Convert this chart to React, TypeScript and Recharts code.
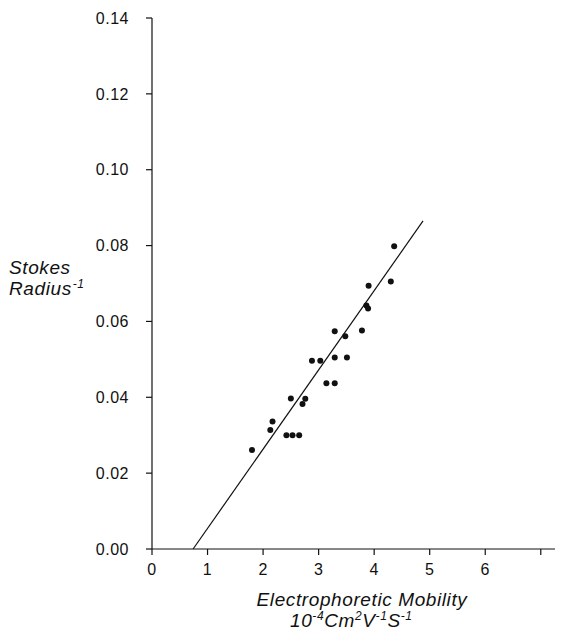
import React from "react";
import {
  ScatterChart,
  Scatter,
  XAxis,
  YAxis,
  ReferenceLine,
} from "recharts";

// electrophoretic mobility (10^-4 cm2 V-1 s-1) vs 1 / Stokes radius
const mobility = [
  1.8, 2.13, 2.17, 2.42, 2.53, 2.65, 2.5, 2.71, 2.76, 3.14, 3.29, 2.88, 3.03,
  3.29, 3.51, 3.29, 3.48, 3.78, 3.86, 3.89, 3.9, 4.3, 4.36,
];
const inverseRadius = [
  0.0261, 0.0314, 0.0336, 0.03, 0.03, 0.03, 0.0397, 0.0382, 0.0396, 0.0437,
  0.0437, 0.0496, 0.0496, 0.0505, 0.0505, 0.0574, 0.0561, 0.0576, 0.0642,
  0.0634, 0.0694, 0.0705, 0.0798,
];
const fitX = [0.74, 4.88];
const fitY = [0, 0.0865];

const xTicks = [0, 1, 2, 3, 4, 5, 6, 7];
const yTicks = [0, 0.02, 0.04, 0.06, 0.08, 0.1, 0.12, 0.14];

const points = mobility.map((x, i) => ({ x, y: inverseRadius[i] }));
const fitSegment = fitX.map((x, i) => ({ x, y: fitY[i] }));

const font = "'Liberation Sans', Arial, sans-serif";
const ink = "#111";

const Dot = (props: any) => (
  <circle cx={props.cx} cy={props.cy} r={3} fill={ink} />
);

const YLabel = () => (
  <text
    fontFamily={font}
    fontStyle="italic"
    fontSize={19}
    letterSpacing={0.6}
    fill={ink}
  >
    <tspan x={1} y={266}>Stokes</tspan>
    <tspan x={1} y={287}>Radius</tspan>
    <tspan fontSize={12} dx={1} dy={-7}>-1</tspan>
  </text>
);

const XLabel = () => (
  <text
    fontFamily={font}
    fontStyle="italic"
    fontSize={19}
    letterSpacing={0.6}
    fill={ink}
  >
    <tspan x={354} y={598} textAnchor="middle">
      Electrophoretic Mobility
    </tspan>
    <tspan x={282} y={619}>10</tspan>
    <tspan fontSize={12} dy={-7}>-4</tspan>
    <tspan dy={7}>Cm</tspan>
    <tspan fontSize={12} dy={-7}>2</tspan>
    <tspan dy={7}>V</tspan>
    <tspan fontSize={12} dy={-7}>-1</tspan>
    <tspan dy={7}>S</tspan>
    <tspan fontSize={12} dy={-7}>-1</tspan>
  </text>
);

export default function App() {
  return (
    <div style={{ width: 555, height: 623 }}>
      <ScatterChart
        width={555}
        height={623}
        margin={{ top: 10, right: 0, bottom: 0, left: 0 }}
      >
        <XAxis
          type="number"
          dataKey="x"
          domain={[0, 7.4]}
          ticks={xTicks}
          allowDataOverflow
          tickFormatter={(v: number) => (v === 7 ? "" : String(v))}
          height={82}
          tickSize={6}
          tickMargin={9}
          stroke={ink}
          strokeWidth={1.2}
          tick={{ fill: ink, fontSize: 16, fontFamily: font, letterSpacing: 0.5 }}
          label={{ content: () => <XLabel /> }}
        />
        <YAxis
          type="number"
          dataKey="y"
          domain={[0, 0.14]}
          ticks={yTicks}
          allowDataOverflow
          tickFormatter={(v: number) => v.toFixed(2)}
          width={144}
          tickSize={6}
          tickMargin={17}
          stroke={ink}
          strokeWidth={1.2}
          tick={{ fill: ink, fontSize: 16, fontFamily: font, letterSpacing: 0.5 }}
          label={{ content: () => <YLabel /> }}
        />
        <ReferenceLine
          segment={fitSegment}
          stroke={ink}
          strokeWidth={1.2}
          ifOverflow="visible"
        />
        <Scatter data={points} shape={Dot} isAnimationActive={false} />
      </ScatterChart>
    </div>
  );
}
